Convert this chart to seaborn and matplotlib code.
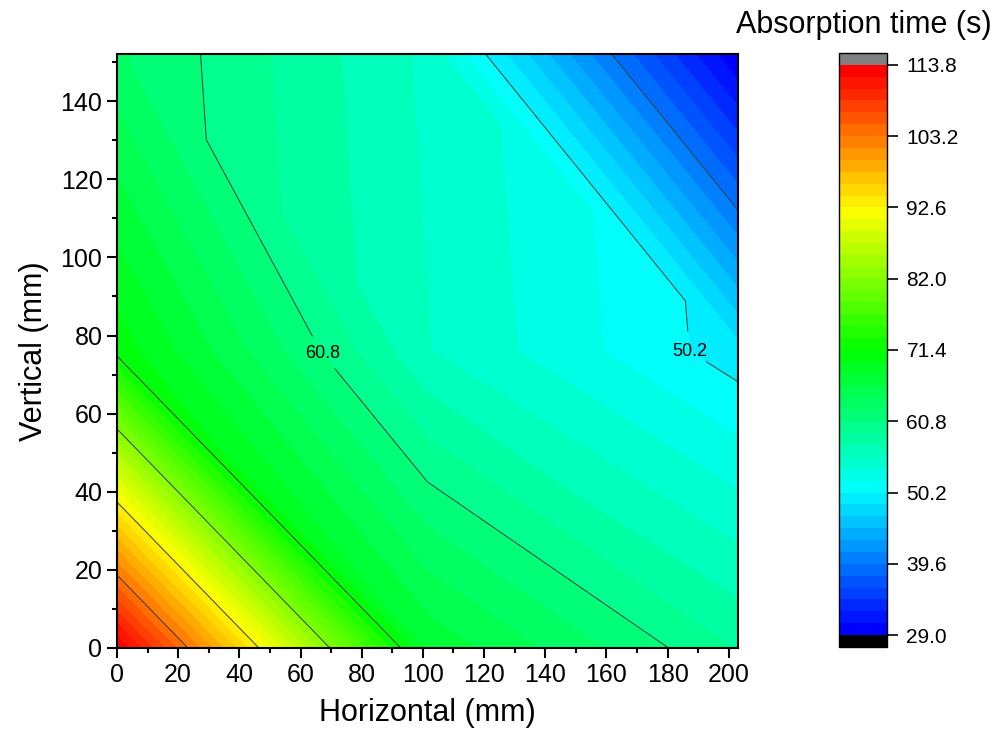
import numpy as np
import matplotlib
matplotlib.use("Agg")
import matplotlib.pyplot as plt
import matplotlib.tri as mtri
from matplotlib.colors import LinearSegmentedColormap, ListedColormap
from matplotlib.ticker import MultipleLocator
import seaborn as sns

# ---- data (3 x 3 measurement grid) ----
horizontal = [0.0, 101.5, 203.0]          # mm
vertical = [0.0, 76.0, 152.0]             # mm
time_row_v0 = [113.8, 67.4, 58.9]         # absorption time (s) at vertical = 0
time_row_v76 = [70.7, 55.6, 49.2]         # at vertical = 76
time_row_v152 = [62.9, 55.1, 29.0]        # at vertical = 152

level_min = 29.0
level_max = 113.8
major_levels = [29.0, 39.6, 50.2, 60.8, 71.4, 82.0, 92.6, 103.2, 113.8]
labelled_levels = [50.2, 60.8]

sns.set_style("ticks")
plt.rcParams["font.family"] = ["Liberation Sans", "DejaVu Sans"]
plt.rcParams["text.color"] = "black"
plt.rcParams["axes.labelcolor"] = "black"
plt.rcParams["xtick.color"] = "black"
plt.rcParams["ytick.color"] = "black"

# ---- build triangulation (diagonal from top-left to bottom-right in each cell) ----
X, Y = np.meshgrid(horizontal, vertical)
Z = np.array([time_row_v0, time_row_v76, time_row_v152])
nx, ny = len(horizontal), len(vertical)
tris = []
for j in range(ny - 1):
    for i in range(nx - 1):
        bl = j * nx + i
        br = bl + 1
        tl = bl + nx
        tr = tl + 1
        tris.append([bl, br, tl])
        tris.append([br, tr, tl])
tri = mtri.Triangulation(X.ravel(), Y.ravel(), np.array(tris))
zvals = Z.ravel()

# ---- Origin-like rainbow colormap with 48 bands ----
n_bands = 48
base = LinearSegmentedColormap.from_list(
    "origin_rainbow", ["#0000ff", "#00ffff", "#00ff00", "#ffff00", "#ff0000"])
cmap = ListedColormap([base(i / (n_bands - 1)) for i in range(n_bands)])
cmap.set_under("black")
cmap.set_over("#808080")
fill_levels = np.linspace(level_min, level_max, n_bands + 1)

fig = plt.figure(figsize=(9.99, 7.43), dpi=100)
ax = fig.add_axes([0.1171, 0.1279, 0.6216, 0.7990])
cax = fig.add_axes([0.8398, 0.1292, 0.0481, 0.7995])

cf = ax.tricontourf(tri, zvals, levels=fill_levels, cmap=cmap, extend="both")
line_levels = [l for l in major_levels if l not in labelled_levels]
ax.tricontour(tri, zvals, levels=line_levels, colors="#3a3a3a", linewidths=0.7)
cs = ax.tricontour(tri, zvals, levels=labelled_levels, colors="#3a3a3a", linewidths=0.7)
labels = ax.clabel(cs, fmt="%.1f", fontsize=13, colors="black", inline=True,
                   inline_spacing=2, manual=[(68, 76), (187, 76)])
for t in labels:
    t.set_rotation(0)

ax.set_xlim(horizontal[0], horizontal[-1])
ax.set_ylim(vertical[0], vertical[-1])
ax.xaxis.set_major_locator(MultipleLocator(20))
ax.xaxis.set_minor_locator(MultipleLocator(10))
ax.yaxis.set_major_locator(MultipleLocator(20))
ax.yaxis.set_minor_locator(MultipleLocator(10))
ax.tick_params(which="both", direction="out", top=False, right=False, width=1.5,
               color="black", labelcolor="black", labelsize=18)
ax.tick_params(which="major", length=7)
ax.tick_params(which="minor", length=3.5)
for s in ax.spines.values():
    s.set_linewidth(1.5)
    s.set_color("black")
    s.set_visible(True)
ax.set_xlabel("Horizontal (mm)", fontsize=22, labelpad=8, color="black")
ax.set_ylabel("Vertical (mm)", fontsize=22, labelpad=8, color="black")

cb = fig.colorbar(cf, cax=cax, extend="both", extendrect=True, extendfrac=1 / 48,
                  drawedges=False)
cb.set_ticks(major_levels)
cb.set_ticklabels([f"{v:.1f}" for v in major_levels])
cb.ax.tick_params(which="major", direction="out", length=8, width=1.2, labelsize=15,
                  pad=6, color="black", labelcolor="black")
cb.ax.minorticks_off()
cb.outline.set_linewidth(1.0)
cb.outline.set_edgecolor("black")
fig.text(0.8644, 1 - 25 / 743, "Absorption time (s)", fontsize=22,
         ha="center", va="center", color="black")

fig.savefig("out.png", dpi=100)
